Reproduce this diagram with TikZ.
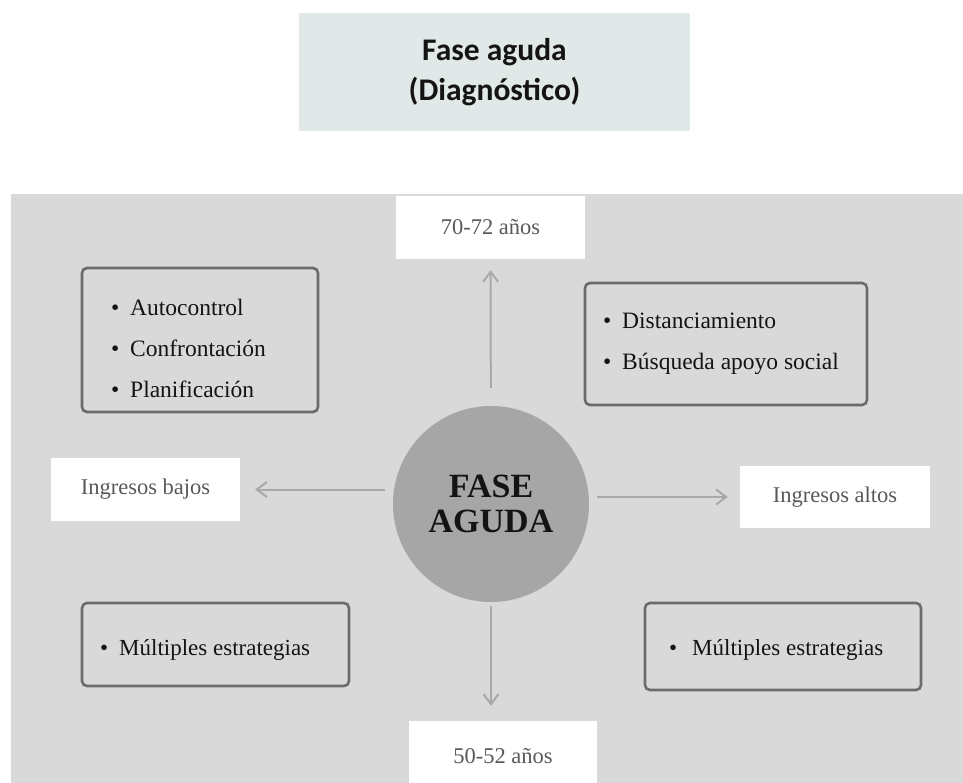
\documentclass[tikz,border=0pt]{standalone}
\usepackage{fontspec}
\setmainfont{Liberation Serif}
\newfontfamily\headfont{Carlito}
\usetikzlibrary{arrows.meta}

\definecolor{panel}{HTML}{D9D9D9}
\definecolor{titlebg}{HTML}{E1E8E8}
\definecolor{hubfill}{HTML}{A6A6A6}
\definecolor{arrowgray}{HTML}{A9A9A9}
\definecolor{labelgray}{HTML}{595959}
\definecolor{framegray}{HTML}{6B6B6B}
\definecolor{ink}{HTML}{141414}

\newcommand{\itm}{\makebox[19pt][l]{\textbullet}}

\begin{document}
\begin{tikzpicture}[x=1pt,y=-1pt,
  tag/.style={fill=white, inner sep=0pt, text=labelgray,
    font=\fontsize{22.5}{27}\selectfont},
  listbox/.style={draw=framegray, line width=2.6pt, rounded corners=5pt,
    inner sep=0pt},
  listtext/.style={anchor=base west, inner sep=0pt, align=left, text=ink},
  link/.style={draw=arrowgray, line width=2pt,
    -{Straight Barb[length=10pt,width=15pt,line width=2pt]}}]

\useasboundingbox (0,0) rectangle (963,783);

% heading
\node[fill=titlebg, minimum width=391pt, minimum height=118pt, inner sep=0pt,
  align=center, text=ink,
  font=\headfont\bfseries\fontsize{31.5}{40}\selectfont]
  (title) at (494.5,72) {Fase aguda\\(Diagnóstico)};

% grey panel
\fill[panel] (11,194) rectangle (963,783);

% centre
\node[circle, fill=hubfill, minimum size=196pt, inner sep=0pt, align=center,
  text=ink, font=\bfseries\fontsize{34}{35}\selectfont]
  (hub) at (491,504) {FASE\\AGUDA};

% labels at the arrow ends
\node[tag, minimum width=189pt, minimum height=63pt] (top) at (490.5,227.5) {70-72 años};
\node[tag, minimum width=189pt, minimum height=63pt] (lo)  at (145.5,489.5) {Ingresos bajos};
\node[tag, minimum width=190pt, minimum height=62pt] (hi)  at (835,497) {Ingresos altos};
\node[tag, minimum width=188pt, minimum height=70pt] (bot) at (503,756) {50-52 años};

% strategy boxes
\node[listbox, minimum width=236pt, minimum height=144pt] (tl) at (200,340) {};
\node[listbox, minimum width=282pt, minimum height=122pt] (tr) at (726,344) {};
\node[listbox, minimum width=267pt, minimum height=83pt]  (bl) at (215.5,644.5) {};
\node[listbox, minimum width=276pt, minimum height=87pt]  (br) at (783,646.5) {};

% lists (anchored on the baseline of their last line)
\node[listtext, font=\fontsize{23.5}{41}\selectfont] (tlt) at (111,397)
  {\itm Autocontrol\\\itm Confrontación\\\itm Planificación};
\node[listtext, font=\fontsize{23.5}{40}\selectfont] (trt) at (603,369)
  {\itm Distanciamiento\\\itm Búsqueda apoyo social};
\node[listtext, font=\fontsize{23}{40}\selectfont] (blt) at (100,655)
  {\itm Múltiples estrategias};
\node[listtext, font=\fontsize{23}{40}\selectfont] (brt) at (669,655)
  {\makebox[23pt][l]{\textbullet}Múltiples estrategias};

% arrows
\draw[link, shorten <=18pt, shorten >=11pt] (hub) -- (top);
\draw[link, shorten <=4pt, shorten >=15pt] (hub) -- (hub |- bot.north);
\draw[link, shorten <=8pt, shorten >=15pt] (hub.west |- lo.east) -- (lo.east);
\draw[link, shorten <=8pt, shorten >=12pt] (hub.east |- hi.west) -- (hi.west);
\end{tikzpicture}
\end{document}
